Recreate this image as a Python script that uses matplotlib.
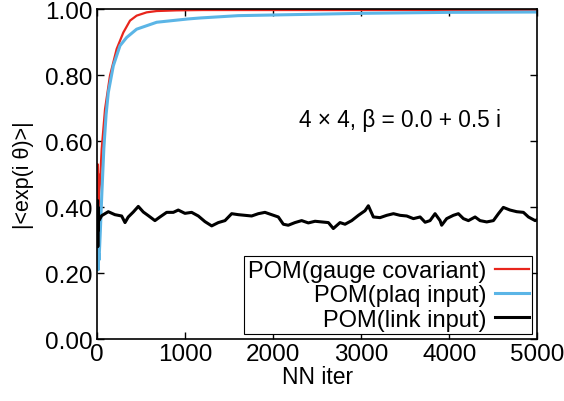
import matplotlib
matplotlib.use("Agg")
import matplotlib.pyplot as plt

plt.rcParams['font.family'] = ['Liberation Sans', 'DejaVu Sans']

# ---- data ----
red_x = [0, 4, 8, 12, 16, 20, 30, 50, 88, 144, 220, 296, 372, 447, 561, 675, 900, 1200, 2000, 3000, 4000, 5000]
red_y = [0.30, 0.53, 0.25, 0.50, 0.40, 0.44, 0.47, 0.576, 0.697, 0.798, 0.879, 0.929, 0.965, 0.980, 0.990, 0.994, 0.996, 0.997, 0.997, 0.997, 0.997, 0.997]

blue_x = [0, 5, 10, 15, 20, 35, 50, 75, 100, 125, 182, 258, 334, 447, 675, 1030, 1170, 1600, 2000, 3000, 4000, 5000]
blue_y = [0.22, 0.28, 0.21, 0.26, 0.24, 0.33, 0.43, 0.58, 0.68, 0.747, 0.828, 0.889, 0.914, 0.939, 0.960, 0.970, 0.973, 0.980, 0.982, 0.987, 0.990, 0.991]

black_x = [0, 3, 6, 9, 12, 15, 20, 50, 125, 200, 277, 315, 352, 409, 466, 523, 580, 655, 712, 788,
           864, 920, 996, 1072, 1148, 1223, 1300, 1375, 1451, 1527, 1602, 1678, 1754, 1830, 1905, 1981,
           2057, 2114, 2170, 2246, 2322, 2398, 2474, 2550, 2626, 2682, 2758, 2815, 2891, 2967, 3042,
           3080, 3137, 3213, 3289, 3365, 3440, 3516, 3592, 3668, 3725, 3781, 3838, 3895, 3913, 3970,
           4046, 4103, 4160, 4217, 4293, 4349, 4425, 4501, 4558, 4614, 4690, 4766, 4842, 4899, 4975, 5000]
black_y = [0.30, 0.42, 0.28, 0.40, 0.33, 0.37, 0.36, 0.374, 0.386, 0.377, 0.373, 0.353, 0.370, 0.385, 0.402, 0.385, 0.374, 0.359, 0.370, 0.384,
           0.384, 0.391, 0.381, 0.384, 0.373, 0.356, 0.343, 0.353, 0.359, 0.380, 0.377, 0.375, 0.373, 0.380, 0.384, 0.377,
           0.370, 0.348, 0.345, 0.353, 0.359, 0.352, 0.357, 0.355, 0.353, 0.335, 0.353, 0.348, 0.359, 0.375, 0.389,
           0.404, 0.370, 0.368, 0.375, 0.380, 0.375, 0.373, 0.365, 0.370, 0.354, 0.359, 0.380, 0.359, 0.345, 0.365,
           0.375, 0.380, 0.365, 0.359, 0.370, 0.359, 0.355, 0.359, 0.380, 0.399, 0.391, 0.386, 0.384, 0.370, 0.359, 0.362]

labels = ["POM(gauge covariant)", "POM(plaq input)", "POM(link input)"]
colors = ["#e8251c", "#5bb5e6", "#000000"]
xticks = [0, 1000, 2000, 3000, 4000, 5000]
yticks = [0.0, 0.2, 0.4, 0.6, 0.8, 1.0]
ytick_labels = ["0.00", "0.20", "0.40", "0.60", "0.80", "1.00"]

fig = plt.figure(figsize=(5.64, 4.02), dpi=100)
ax = fig.add_axes([0.1725, 0.154, 0.7802, 0.821])

ax.plot(red_x, red_y, color=colors[0], lw=1.6, label=labels[0])
ax.plot(blue_x, blue_y, color=colors[1], lw=2.2, label=labels[1])
ax.plot(black_x, black_y, color=colors[2], lw=2.2, label=labels[2])

ax.set_xlim(0, 5000)
ax.set_ylim(0, 1.0)
ax.set_xticks(xticks)
ax.set_xticklabels([str(t) for t in xticks])
ax.set_yticks(yticks)
ax.set_yticklabels(ytick_labels)
ax.tick_params(direction='in', top=True, right=True, length=5, width=1, labelsize=17.5)
ax.tick_params(axis='x', pad=3)
ax.tick_params(axis='y', pad=3.5)
for s in ax.spines.values():
    s.set_linewidth(1.2)

ax.set_xlabel("NN iter", fontsize=16.5, labelpad=0)
ax.set_ylabel("|<exp(i θ)>|", fontsize=15.5, labelpad=8)

ax.text(2290, 0.666, "4 × 4, β = 0.0 + 0.5 i", fontsize=16.3, va='center', ha='left')

leg = ax.legend(loc='lower right', bbox_to_anchor=(0.988, 0.015), borderaxespad=0,
                markerfirst=False, fontsize=17, handlelength=1.4, handletextpad=0.4,
                labelspacing=0.1, borderpad=0.15, fancybox=False, framealpha=1, edgecolor='black')
for t in leg.get_texts():
    t.set_ha('right')
leg.get_frame().set_linewidth(0.8)
leg._legend_box.align = "right"

fig.savefig("out.png", dpi=100)
